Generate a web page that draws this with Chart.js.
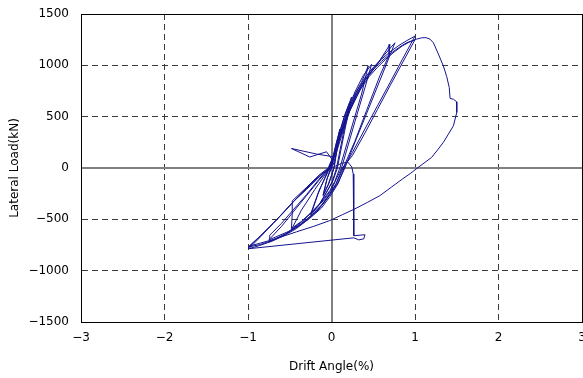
<!DOCTYPE html>
<html>
<head>
<meta charset="utf-8">
<script src="https://cdn.jsdelivr.net/npm/chart.js@4"></script>
<style>
  html, body { margin: 0; padding: 0; background: #fff; }
  #wrap { width: 583px; height: 378px; }
</style>
</head>
<body>
<div id="wrap"><canvas id="chart"></canvas></div>
<script>
// ===============================
// DATA: [drift angle (%), lateral load (kN)]
// ===============================
const startSpike = [
  [0, 0], [0.01, 80], [-0.06, 158], [-0.26, 107], [-0.48, 190], [-0.18, 136], [0.02, 110]
];

const cycles010 = [
  [0.06, 250], [0.1, 380], [0.07, 220], [0.03, 0], [-0.03, -150], [-0.1, -270], [-0.06, -120], [-0.01, 0],
  [0.05, 220], [0.1, 360], [0.07, 200], [0.03, 0], [-0.04, -160], [-0.1, -260], [-0.05, -100], [0, 0]
];

const cycles025 = [
  [0.05, 190], [0.1, 360], [0.16, 520], [0.24, 690], [0.16, 370], [0.07, 0],
  [0.02, -120], [-0.04, -210], [-0.14, -350], [-0.25, -460], [-0.16, -250], [-0.03, 0],
  [0.05, 180], [0.1, 340], [0.15, 490], [0.22, 640], [0.14, 330], [0.06, 0],
  [0.01, -130], [-0.05, -220], [-0.15, -360], [-0.25, -450], [-0.15, -220], [-0.02, 0]
];

const cycles050 = [
  [0.05, 160], [0.1, 320], [0.18, 540], [0.28, 740], [0.38, 900], [0.48, 1010], [0.4, 780], [0.28, 450], [0.12, 0],
  [0.05, -120], [0, -210], [-0.1, -320], [-0.22, -420], [-0.35, -520], [-0.48, -600],
  [-0.36, -410], [-0.2, -210], [-0.08, -70], [-0.03, 0],
  [0.05, 170], [0.1, 300], [0.2, 560], [0.28, 720], [0.36, 835], [0.44, 995], [0.36, 720], [0.25, 420], [0.1, 0],
  [0.04, -130], [-0.02, -220], [-0.12, -330], [-0.24, -430], [-0.36, -520], [-0.48, -590],
  [-0.47, -450], [-0.47, -320], [-0.3, -190], [-0.15, -70], [-0.04, 0]
];

const cycles075 = [
  [0.05, 170], [0.1, 300], [0.2, 530], [0.3, 720], [0.4, 860], [0.52, 990], [0.62, 1090], [0.76, 1220],
  [0.62, 935], [0.45, 590], [0.3, 290], [0.16, 0],
  [0.08, -140], [0, -240], [-0.1, -350], [-0.22, -450], [-0.35, -540], [-0.5, -620], [-0.62, -675], [-0.74, -720],
  [-0.74, -655], [-0.6, -540], [-0.45, -400], [-0.3, -260], [-0.15, -110], [-0.03, 0],
  [0.05, 160], [0.1, 290], [0.2, 520], [0.3, 700], [0.4, 850], [0.55, 1010], [0.7, 1204], [0.69, 1100],
  [0.58, 900], [0.42, 560], [0.28, 260], [0.14, 0],
  [0.06, -150], [-0.02, -250], [-0.12, -360], [-0.24, -460], [-0.37, -545], [-0.52, -620], [-0.75, -700],
  [-0.6, -570], [-0.45, -420], [-0.3, -270], [-0.15, -120], [-0.02, 0]
];

const cycles100 = [
  [0.05, 160], [0.1, 320], [0.2, 560], [0.3, 740], [0.4, 880], [0.5, 980], [0.6, 1060], [0.7, 1130],
  [0.8, 1190], [0.9, 1240], [1.0, 1285],
  [0.85, 1060], [0.7, 830], [0.55, 605], [0.4, 380], [0.25, 150], [0.16, 20],
  [0.08, -150], [-0.02, -280], [-0.12, -390], [-0.26, -490], [-0.4, -570], [-0.55, -640], [-0.7, -700],
  [-0.85, -745], [-1.0, -770],
  [-0.85, -660], [-0.7, -540], [-0.58, -440], [-0.46, -330], [-0.3, -210], [-0.15, -90], [0, 20],
  [0.05, 150], [0.1, 290], [0.2, 540], [0.3, 720], [0.4, 860], [0.5, 960], [0.6, 1040], [0.7, 1110],
  [0.8, 1170], [0.9, 1220], [1.0, 1250],
  [0.86, 1040], [0.7, 800], [0.55, 570], [0.4, 340], [0.25, 120], [0.13, 0],
  [0.05, -160], [-0.05, -290], [-0.15, -400], [-0.28, -500], [-0.42, -590], [-0.57, -660], [-0.72, -715],
  [-0.86, -755], [-0.99, -786],
  [-0.85, -670], [-0.7, -540], [-0.55, -410], [-0.4, -280], [-0.25, -160], [-0.12, -60], [0.02, 30]
];

const finalPush = [
  [0.07, 180], [0.12, 310], [0.22, 560], [0.35, 770], [0.45, 890], [0.55, 980], [0.65, 1060], [0.75, 1130],
  [0.85, 1190], [0.93, 1225], [1.02, 1255], [1.08, 1268], [1.13, 1270], [1.18, 1255], [1.22, 1220],
  [1.28, 1110], [1.34, 993], [1.38, 890], [1.41, 784], [1.42, 677], [1.46, 670], [1.5, 644], [1.5, 541],
  [1.46, 411], [1.4, 330], [1.34, 250], [1.27, 175], [1.2, 104], [1.12, 55], [1.04, 7],
  [0.95, -50], [0.85, -107], [0.72, -185], [0.58, -269], [0.43, -335], [0.28, -398], [0.13, -455],
  [-0.02, -512], [-0.22, -570], [-0.42, -622], [-0.58, -665], [-0.74, -706], [-0.88, -738],
  [-0.98, -760], [-1.0, -780]
];

const afterDrop = [
  [-0.85, -660], [-0.7, -540], [-0.55, -410], [-0.4, -280], [-0.25, -150], [-0.1, -50], [0.05, 20],
  [0.12, 45], [0.195, 58], [0.243, 10], [0.26, -58],
  [0.267, -660], [0.4, -650], [0.387, -690], [0.327, -700], [0.267, -680], [-0.99, -786]
];

const xTickValues = [-3, -2, -1, 0, 1, 2, 3];
const yTickValues = [-1500, -1000, -500, 0, 500, 1000, 1500];

const xTitle = "Drift Angle(%)";
const yTitle = "Lateral Load(kN)";

// ===============================
// BUILD CHART
// ===============================
const allPoints = [].concat(startSpike, cycles010, cycles025, cycles050, cycles075, cycles100, finalPush, afterDrop)
  .map(p => ({ x: p[0], y: p[1] }));

const font = { family: "DejaVu Sans", size: 12 };

function minusSign(v) {
  return String(v).replace("-", "\u2212");
}

function gridColor(ctx, lo, hi) {
  const v = ctx.tick ? ctx.tick.value : null;
  if (v === 0) return "#808080";
  if (v === lo || v === hi) return "#000000";
  return "#3a3a3a";
}

function gridDash(ctx, lo, hi) {
  const v = ctx.tick ? ctx.tick.value : null;
  if (v === 0 || v === lo || v === hi) return [];
  return [6, 4];
}

new Chart(document.getElementById("chart"), {
  type: "scatter",
  data: {
    datasets: [{
      data: allPoints,
      showLine: true,
      borderColor: "#14148f",
      borderWidth: 1,
      pointRadius: 0,
      tension: 0
    }]
  },
  options: {
    responsive: true,
    maintainAspectRatio: false,
    animation: false,
    layout: { padding: { top: 14, right: 1, left: 0, bottom: 0 } },
    plugins: { legend: { display: false }, tooltip: { enabled: false } },
    scales: {
      x: {
        type: "linear",
        min: -3,
        max: 3,
        afterBuildTicks: s => { s.ticks = xTickValues.map(v => ({ value: v })); },
        afterFit: s => { s.height = 56; s.paddingLeft = 0; s.paddingRight = 0; },
        ticks: {
          color: "#000",
          font,
          padding: 9,
          autoSkip: false,
          maxRotation: 0,
          callback: v => minusSign(v)
        },
        grid: {
          drawTicks: false,
          color: ctx => gridColor(ctx, -3, 3),
          lineWidth: ctx => (ctx.tick && ctx.tick.value === 0 ? 2 : 1)
        },
        border: { display: true, color: "#000", width: 1, dash: ctx => gridDash(ctx, -3, 3) },
        title: { display: true, text: xTitle, color: "#000", font, padding: { top: 4, bottom: 4 } }
      },
      y: {
        type: "linear",
        min: -1500,
        max: 1500,
        afterBuildTicks: s => { s.ticks = yTickValues.map(v => ({ value: v })); },
        afterFit: s => { s.width = 81; s.paddingTop = 0; s.paddingBottom = 0; },
        ticks: {
          color: "#000",
          font,
          padding: 12,
          autoSkip: false,
          callback: v => minusSign(v)
        },
        grid: {
          drawTicks: false,
          color: ctx => gridColor(ctx, -1500, 1500),
          lineWidth: ctx => (ctx.tick && ctx.tick.value === 0 ? 2 : 1)
        },
        border: { display: true, color: "#000", width: 1, dash: ctx => gridDash(ctx, -1500, 1500) },
        title: { display: true, text: yTitle, color: "#000", font, padding: { top: 8, bottom: 0 } }
      }
    }
  }
});
</script>
</body>
</html>
